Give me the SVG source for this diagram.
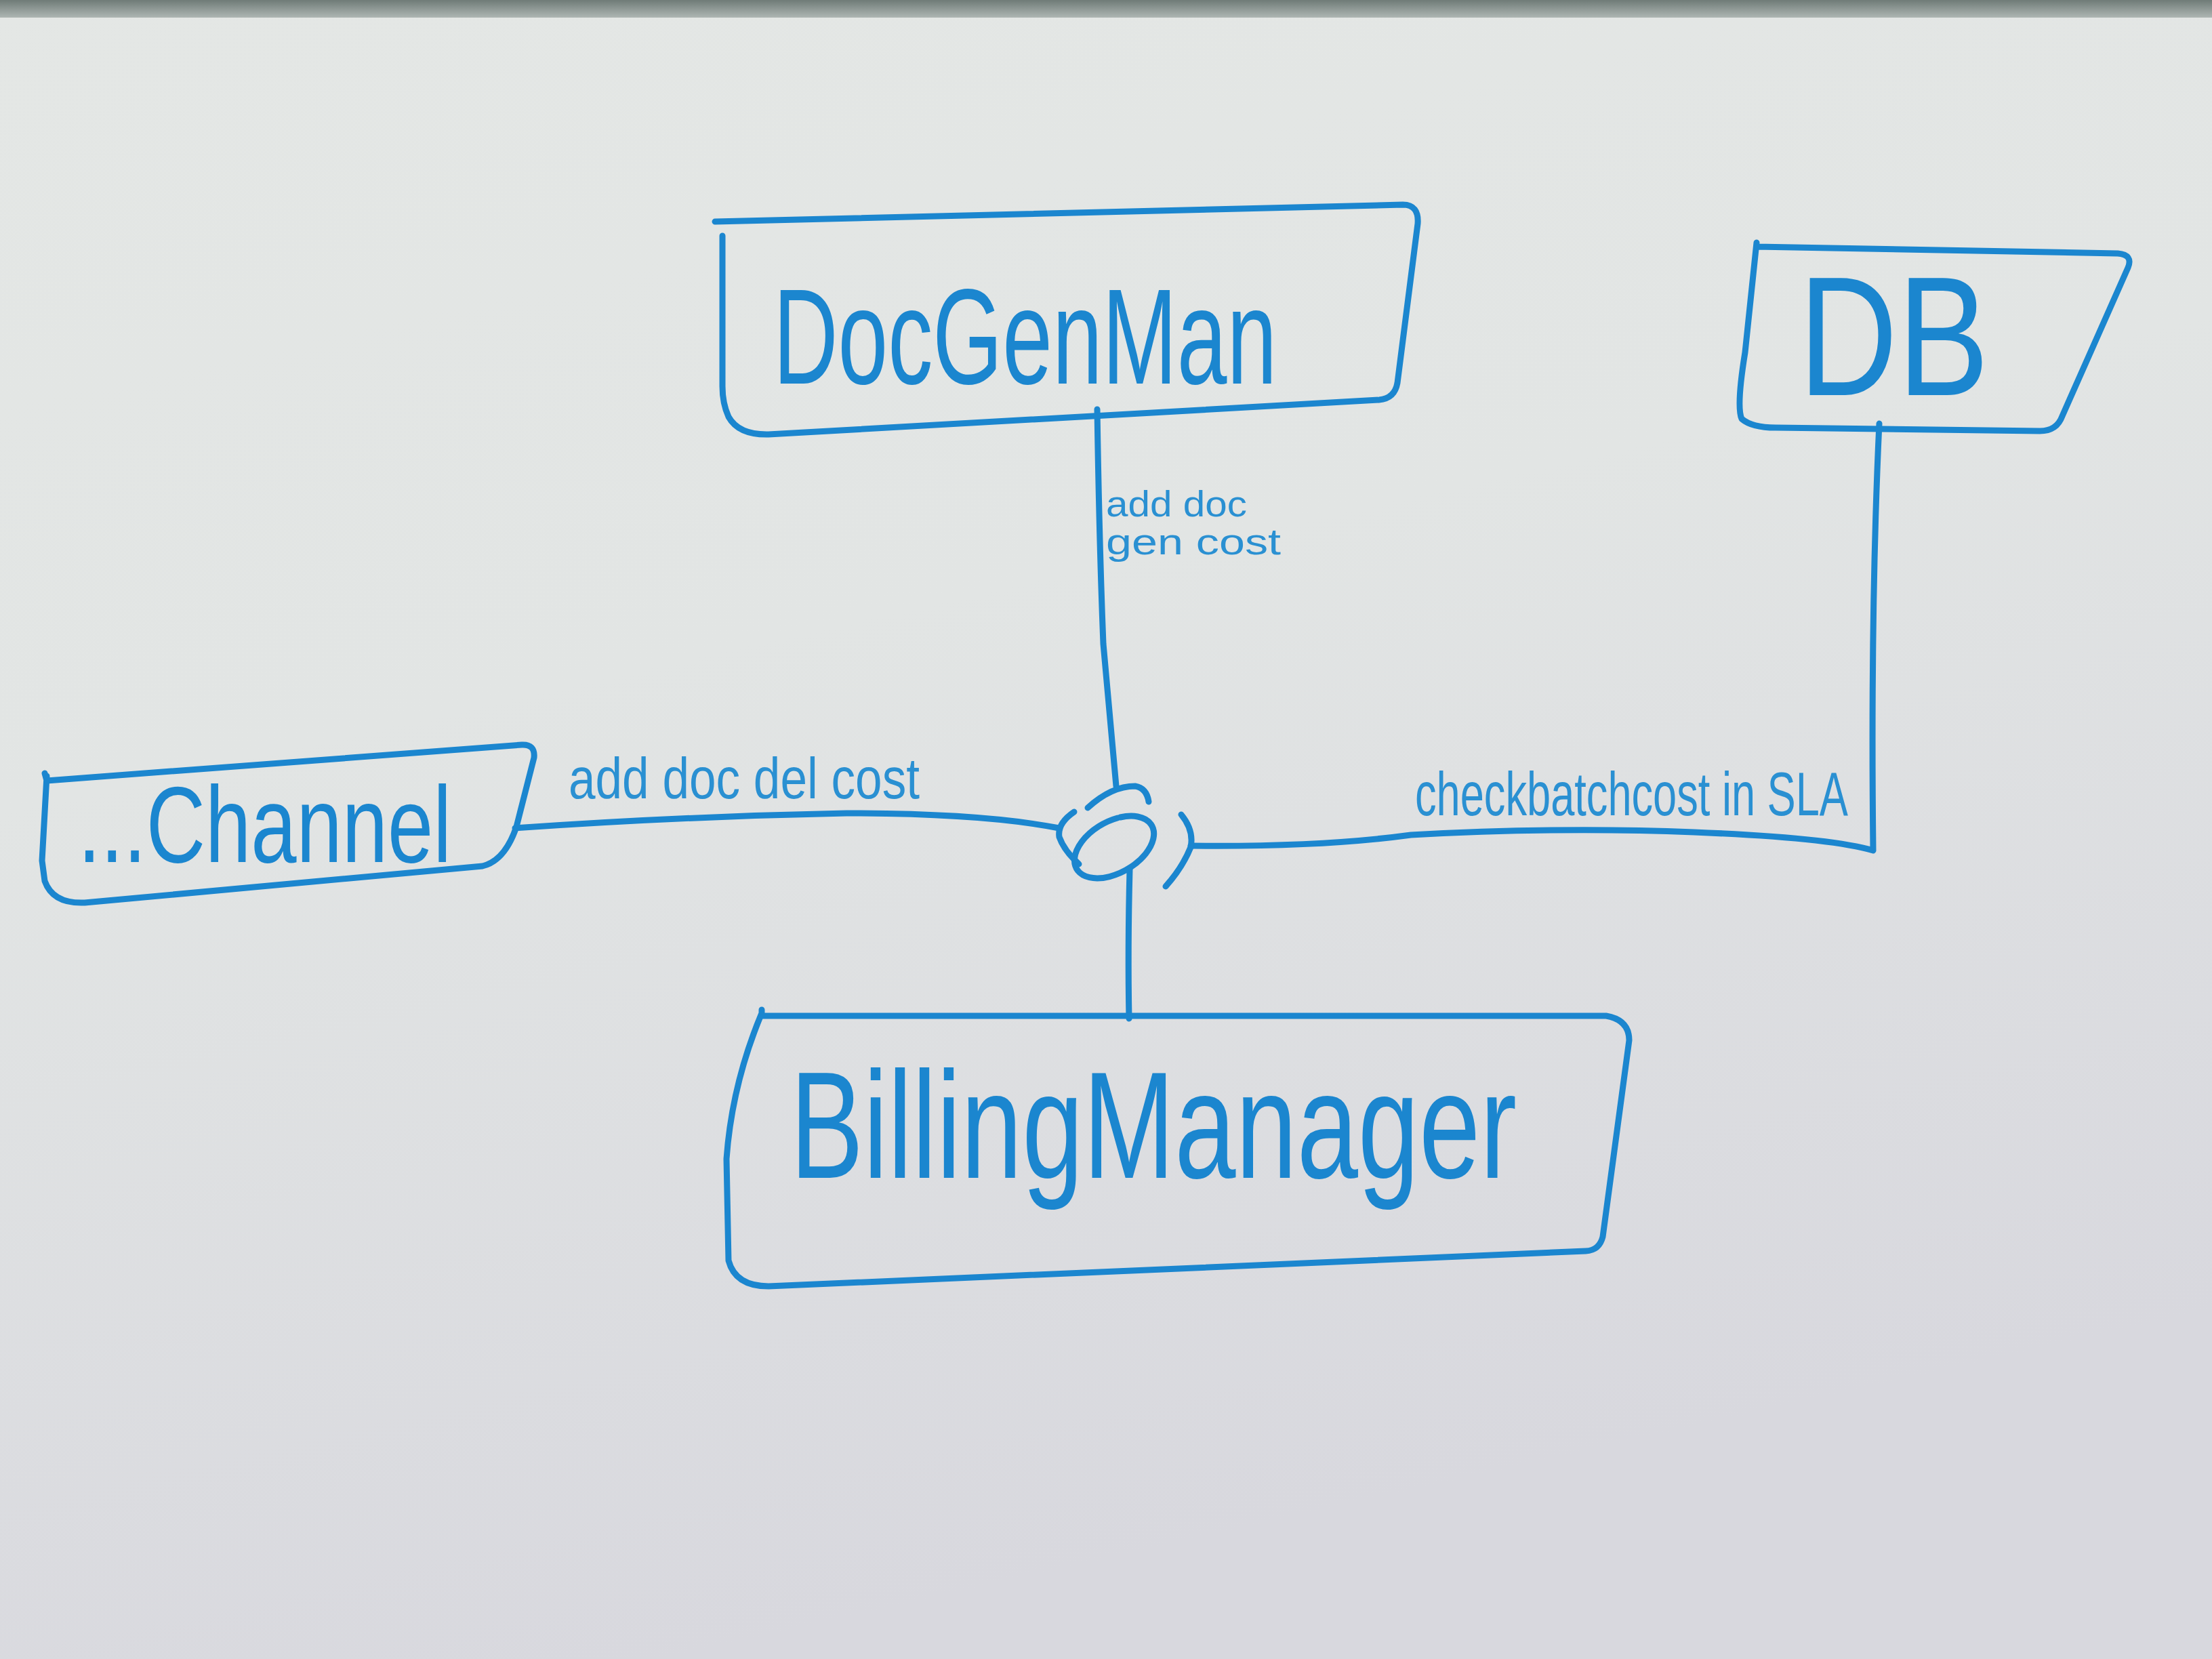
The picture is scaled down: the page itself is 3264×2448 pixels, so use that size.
<svg xmlns="http://www.w3.org/2000/svg" width="3264" height="2448" viewBox="0 0 3264 2448">
<defs>
<linearGradient id="board" x1="0" y1="0" x2="0.3" y2="1">
<stop offset="0" stop-color="#e4e7e5"/>
<stop offset="0.45" stop-color="#e2e5e4"/>
<stop offset="1" stop-color="#d8d8de"/>
</linearGradient>
<linearGradient id="frame" x1="0" y1="0" x2="0" y2="1">
<stop offset="0" stop-color="#6f7b77"/>
<stop offset="1" stop-color="#aeb6b3"/>
</linearGradient>
<style>
.ink{fill:none;stroke:#1b86cf;stroke-width:9;stroke-linecap:round;stroke-linejoin:round}
.big{font-family:"Liberation Sans","DejaVu Sans",sans-serif;fill:#1b86cf}
.lbl{font-family:"Liberation Sans","DejaVu Sans",sans-serif;fill:#2a90d2}
</style>
</defs>
<rect x="0" y="0" width="3264" height="2448" fill="url(#board)"/>
<rect x="0" y="0" width="3264" height="26" fill="url(#frame)"/>

<g id="connectors">
<path class="ink" d="M1619,604 Q1622,800 1628,950 Q1640,1080 1647,1160"/>
<path class="ink" d="M1667,1283 Q1664,1400 1666,1503"/>
<path class="ink" d="M760,1222 Q1000,1205 1249,1200 Q1450,1200 1563,1222"/>
<path class="ink" d="M1757,1248 Q1950,1250 2082,1232 Q2300,1220 2500,1228 Q2700,1236 2764,1255 Q2760,900 2773,625"/>
</g>

<g id="label-docgen">
<text class="lbl" x="1632" y="762" font-size="54" textLength="208" lengthAdjust="spacingAndGlyphs">add doc</text>
<text class="lbl" x="1632" y="818" font-size="54" textLength="258" lengthAdjust="spacingAndGlyphs">gen cost</text>
</g>
<g id="label-channel">
<text class="lbl" x="839" y="1178" font-size="86" textLength="518" lengthAdjust="spacingAndGlyphs">add doc del cost</text>
</g>
<g id="label-db">
<text class="lbl" x="2088" y="1203" font-size="90" textLength="639" lengthAdjust="spacingAndGlyphs">checkbatchcost in SLA</text>
</g>

<g id="DocGenMan">
<path class="ink" d="M1055,327 L2070,302 Q2094,302 2092,330 L2062,565 Q2058,588 2035,590 L1134,641 Q1090,642 1075,615 Q1066,595 1066,570 L1066,348"/>
<text class="big" x="1141" y="566" font-size="200" textLength="743" lengthAdjust="spacingAndGlyphs">DocGenMan</text>
</g>

<g id="DB">
<path class="ink" d="M2592,358 L2575,520 Q2562,600 2570,618 Q2585,631 2620,631 L3010,636 Q3035,636 3043,614 L3140,395 Q3148,376 3125,374 L2592,364"/>
<text class="big" x="2654" y="583" font-size="250" textLength="281" lengthAdjust="spacingAndGlyphs">DB</text>
</g>

<g id="Channel">
<path class="ink" d="M66,1141 L69,1152 L770,1099 Q790,1098 788,1118 L762,1220 Q745,1270 712,1278 L125,1332 Q78,1334 66,1300 L62,1270 L69,1145"/>
<text class="big" x="115" y="1272" font-size="160" textLength="551" lengthAdjust="spacingAndGlyphs">...Channel</text>
</g>

<g id="BillingManager">
<path class="ink" d="M1124,1490 L1124,1499 L2370,1499 Q2404,1505 2404,1535 L2365,1825 Q2360,1845 2340,1846 L1134,1898 Q1085,1898 1075,1860 L1072,1710 Q1080,1600 1124,1495"/>
<text class="big" x="1166" y="1738" font-size="225" textLength="1072" lengthAdjust="spacingAndGlyphs">BillingManager</text>
</g>

<g id="hub">
<path class="ink" d="M1653,1206 A64,38 -30 1 1 1649,1207"/>
<path class="ink" d="M1605,1192 Q1640,1160 1675,1160 Q1692,1163 1695,1183"/>
<path class="ink" d="M1585,1198 Q1560,1215 1563,1235 Q1570,1255 1592,1275"/>
<path class="ink" d="M1743,1202 Q1762,1225 1757,1250 Q1745,1280 1720,1308"/>
</g>
</svg>
